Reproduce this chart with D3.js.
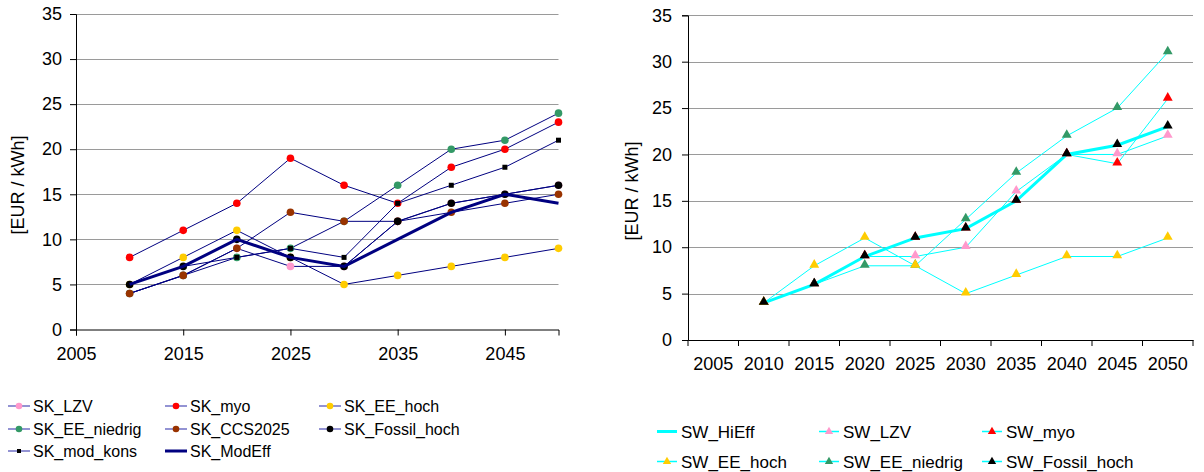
<!DOCTYPE html>
<html>
<head>
<meta charset="utf-8">
<script src="https://cdn.jsdelivr.net/npm/d3@7"></script>
<style>
  body { margin: 0; background: #fff; }
  svg { display: block; font-family: "Liberation Sans", Arial, sans-serif; }
  .axis path, .axis line { stroke: #000; }
  .axis text { font-size: 18px; fill: #000; font-family: "Liberation Sans", Arial, sans-serif; }
</style>
</head>
<body>
<svg id="chart" width="1204" height="472"></svg>
<script>
"use strict";

/* ── Data: left panel (SK, years on a value axis) ─────────── */
const skYears = [2010, 2015, 2020, 2025, 2030, 2035, 2040, 2045, 2050];
const skLZV       = [4, 6, 9, 7, 7, 12, 14, 15, 16];
const skMyo       = [8, 11, 14, 19, 16, 14, 18, 20, 23];
const skEEhoch    = [5, 8, 11, 8, 5, 6, 7, 8, 9];
const skEEniedrig = [4, 6, 8, 9, 12, 16, 20, 21, 24];
const skCCS2025   = [4, 6, 9, 13, 12, 12, 13, 14, 15];
const skFossil    = [5, 7, 10, 8, 7, 12, 14, 15, 16];
const skModKons   = [5, 7, 8, 9, 8, 14, 16, 18, 21];
const skModEff    = [5, 7, 10, 8, 7, 10, 13, 15, 14];
const skXTicks    = [2005, 2015, 2025, 2035, 2045];

/* ── Data: right panel (SW, years as categories) ──────────── */
const swCategories = ["2005", "2010", "2015", "2020", "2025", "2030", "2035", "2040", "2045", "2050"];
const swYears      = ["2010", "2015", "2020", "2025", "2030", "2035", "2040", "2045", "2050"];
const swHiEff      = [4, 6, 9, 11, 12, 15, 20, 21, 23];
const swLZV        = [4, 6, 9, 9, 10, 16, 20, 20, 22];
const swMyo        = [4, 6, 9, 11, 12, 15, 20, 19, 26];
const swEEhoch     = [4, 8, 11, 8, 5, 7, 9, 9, 11];
const swEEniedrig  = [4, 6, 8, 8, 13, 18, 22, 25, 31];
const swFossil     = [4, 6, 9, 11, 12, 15, 20, 21, 23];

const yTicks = [0, 5, 10, 15, 20, 25, 30, 35];

/* series tables (legend order) */
const skSeries = [
  { name: "SK_LZV",         values: skLZV,       color: "#FF99CC", marker: "circle" },
  { name: "SK_myo",         values: skMyo,       color: "#FF0000", marker: "circle" },
  { name: "SK_EE_hoch",     values: skEEhoch,    color: "#FFCC00", marker: "circle" },
  { name: "SK_EE_niedrig",  values: skEEniedrig, color: "#339966", marker: "circle" },
  { name: "SK_CCS2025",     values: skCCS2025,   color: "#993300", marker: "circle" },
  { name: "SK_Fossil_hoch", values: skFossil,    color: "#000000", marker: "circle" },
  { name: "SK_mod_kons",    values: skModKons,   color: "#000000", marker: "square" },
  { name: "SK_ModEff",      values: skModEff,    color: null,      marker: null, thick: true }
];

const swSeries = [
  { name: "SW_HiEff",       values: swHiEff,     color: null,      thick: true },
  { name: "SW_LZV",         values: swLZV,       color: "#FF99CC" },
  { name: "SW_myo",         values: swMyo,       color: "#FF0000" },
  { name: "SW_EE_niedrig",  values: swEEniedrig, color: "#339966" },
  { name: "SW_EE_hoch",     values: swEEhoch,    color: "#FFCC00" },
  { name: "SW_Fossil_hoch", values: swFossil,    color: "#000000" }
];
const swLegendOrder = ["SW_HiEff", "SW_LZV", "SW_myo", "SW_EE_hoch", "SW_EE_niedrig", "SW_Fossil_hoch"];

const NAVY = "#000080";
const CYAN = "#00FFFF";
const svg = d3.select("#chart");

/* ── Left panel ──────────────────────────────────────────── */
(function () {
  const x = d3.scaleLinear().domain([2005, 2050]).range([76, 558.5]);
  const y = d3.scaleLinear().domain([0, 35]).range([329.5, 14]);
  const g = svg.append("g");

  g.append("g").selectAll("line").data(yTicks.filter((d) => d > 0)).join("line")
    .attr("x1", x(2005)).attr("x2", x(2050))
    .attr("y1", (d) => Math.round(y(d)) + 0.5).attr("y2", (d) => Math.round(y(d)) + 0.5)
    .attr("stroke", "#9a9a9a").attr("stroke-width", 1);

  g.append("g").attr("class", "axis")
    .attr("transform", `translate(${x(2005)},0)`)
    .call(d3.axisLeft(y).tickValues(yTicks).tickSizeOuter(0).tickSize(6).tickPadding(8));

  g.append("g").attr("class", "axis")
    .attr("transform", `translate(0,${y(0)})`)
    .call(d3.axisBottom(x).tickValues(skXTicks).tickFormat(d3.format("d"))
      .tickSizeOuter(0).tickSize(6).tickPadding(12));

  g.append("text")
    .attr("transform", `translate(24,185) rotate(-90)`)
    .attr("text-anchor", "middle").attr("font-size", 18)
    .text("[EUR / kWh]");

  const line = d3.line().x((d, i) => x(skYears[i])).y((d) => y(d));

  skSeries.forEach((s) => {
    const sg = g.append("g");
    sg.append("path").datum(s.values)
      .attr("d", line).attr("fill", "none")
      .attr("stroke", NAVY).attr("stroke-width", s.thick ? 3 : 1);
    if (s.marker === "circle") {
      sg.selectAll("circle").data(s.values).join("circle")
        .attr("cx", (d, i) => x(skYears[i])).attr("cy", (d) => y(d))
        .attr("r", 3.8).attr("fill", s.color);
    } else if (s.marker === "square") {
      sg.selectAll("rect").data(s.values).join("rect")
        .attr("x", (d, i) => x(skYears[i]) - 2.5).attr("y", (d) => y(d) - 2.5)
        .attr("width", 5).attr("height", 5).attr("fill", s.color);
    }
  });

  /* legend */
  const cols = [8, 165, 319];
  const rows = [406, 429, 451];
  skSeries.forEach((s, i) => {
    const lx = cols[i % 3], ly = rows[Math.floor(i / 3)];
    const lg = g.append("g");
    lg.append("line").attr("x1", lx).attr("x2", lx + 22).attr("y1", ly).attr("y2", ly)
      .attr("stroke", s.thick ? NAVY : "#6f6fc4").attr("stroke-width", s.thick ? 3 : 1.5);
    if (s.marker === "circle") {
      lg.append("circle").attr("cx", lx + 11).attr("cy", ly).attr("r", 3.3).attr("fill", s.color);
    } else if (s.marker === "square") {
      lg.append("rect").attr("x", lx + 9).attr("y", ly - 2).attr("width", 4).attr("height", 4).attr("fill", s.color);
    }
    lg.append("text").attr("x", lx + 25).attr("y", ly).attr("dy", "0.36em")
      .attr("font-size", 16).text(s.name);
  });
})();

/* ── Right panel ─────────────────────────────────────────── */
(function () {
  const x = d3.scaleBand().domain(swCategories).range([688, 1193]).padding(0);
  const y = d3.scaleLinear().domain([0, 35]).range([340, 15.3]);
  const cx = (c) => x(c) + x.bandwidth() / 2;
  const g = svg.append("g");

  g.append("g").selectAll("line").data(yTicks.filter((d) => d > 0)).join("line")
    .attr("x1", 688).attr("x2", 1193)
    .attr("y1", (d) => Math.round(y(d)) + 0.5).attr("y2", (d) => Math.round(y(d)) + 0.5)
    .attr("stroke", "#9a9a9a").attr("stroke-width", 1);

  g.append("g").attr("class", "axis")
    .attr("transform", "translate(688,0)")
    .call(d3.axisLeft(y).tickValues(yTicks).tickSizeOuter(0).tickSize(6).tickPadding(10));

  const xAxis = g.append("g").attr("class", "axis")
    .attr("transform", `translate(0,${y(0)})`)
    .call(d3.axisBottom(x).tickSize(0).tickSizeOuter(0).tickPadding(17));
  xAxis.selectAll(".boundary").data(swCategories.map((c) => x(c)).concat([x.range()[1]]))
    .join("line").attr("class", "boundary")
    .attr("x1", (d) => d).attr("x2", (d) => d).attr("y1", 0).attr("y2", 6)
    .attr("stroke", "#000");

  g.append("text")
    .attr("transform", `translate(638,191) rotate(-90)`)
    .attr("text-anchor", "middle").attr("font-size", 18)
    .text("[EUR / kWh]");

  const line = d3.line().x((d, i) => cx(swYears[i])).y((d) => y(d));
  const tri = d3.symbol().type(d3.symbolTriangle).size(42);

  swSeries.forEach((s) => {
    const sg = g.append("g");
    sg.append("path").datum(s.values)
      .attr("d", line).attr("fill", "none")
      .attr("stroke", CYAN).attr("stroke-width", s.thick ? 3 : 1);
    if (s.color) {
      sg.selectAll(".m").data(s.values).join("path").attr("class", "m")
        .attr("transform", (d, i) => `translate(${cx(swYears[i])},${y(d) - 1})`)
        .attr("d", tri).attr("fill", s.color);
    }
  });

  /* legend */
  const cols = [657, 819, 982];
  const rows = [431.5, 461.5];
  swLegendOrder.forEach((name, i) => {
    const s = swSeries.find((d) => d.name === name);
    const lx = cols[i % 3], ly = rows[Math.floor(i / 3)];
    const lg = g.append("g");
    lg.append("line").attr("x1", lx).attr("x2", lx + 20).attr("y1", ly).attr("y2", ly)
      .attr("stroke", CYAN).attr("stroke-width", s.thick ? 3 : 1.5);
    if (s.color) {
      lg.append("path").attr("transform", `translate(${lx + 10},${ly})`)
        .attr("d", d3.symbol().type(d3.symbolTriangle).size(30)).attr("fill", s.color);
    }
    lg.append("text").attr("x", lx + 24).attr("y", ly).attr("dy", "0.36em")
      .attr("font-size", 17).text(s.name);
  });
})();
</script>
</body>
</html>
